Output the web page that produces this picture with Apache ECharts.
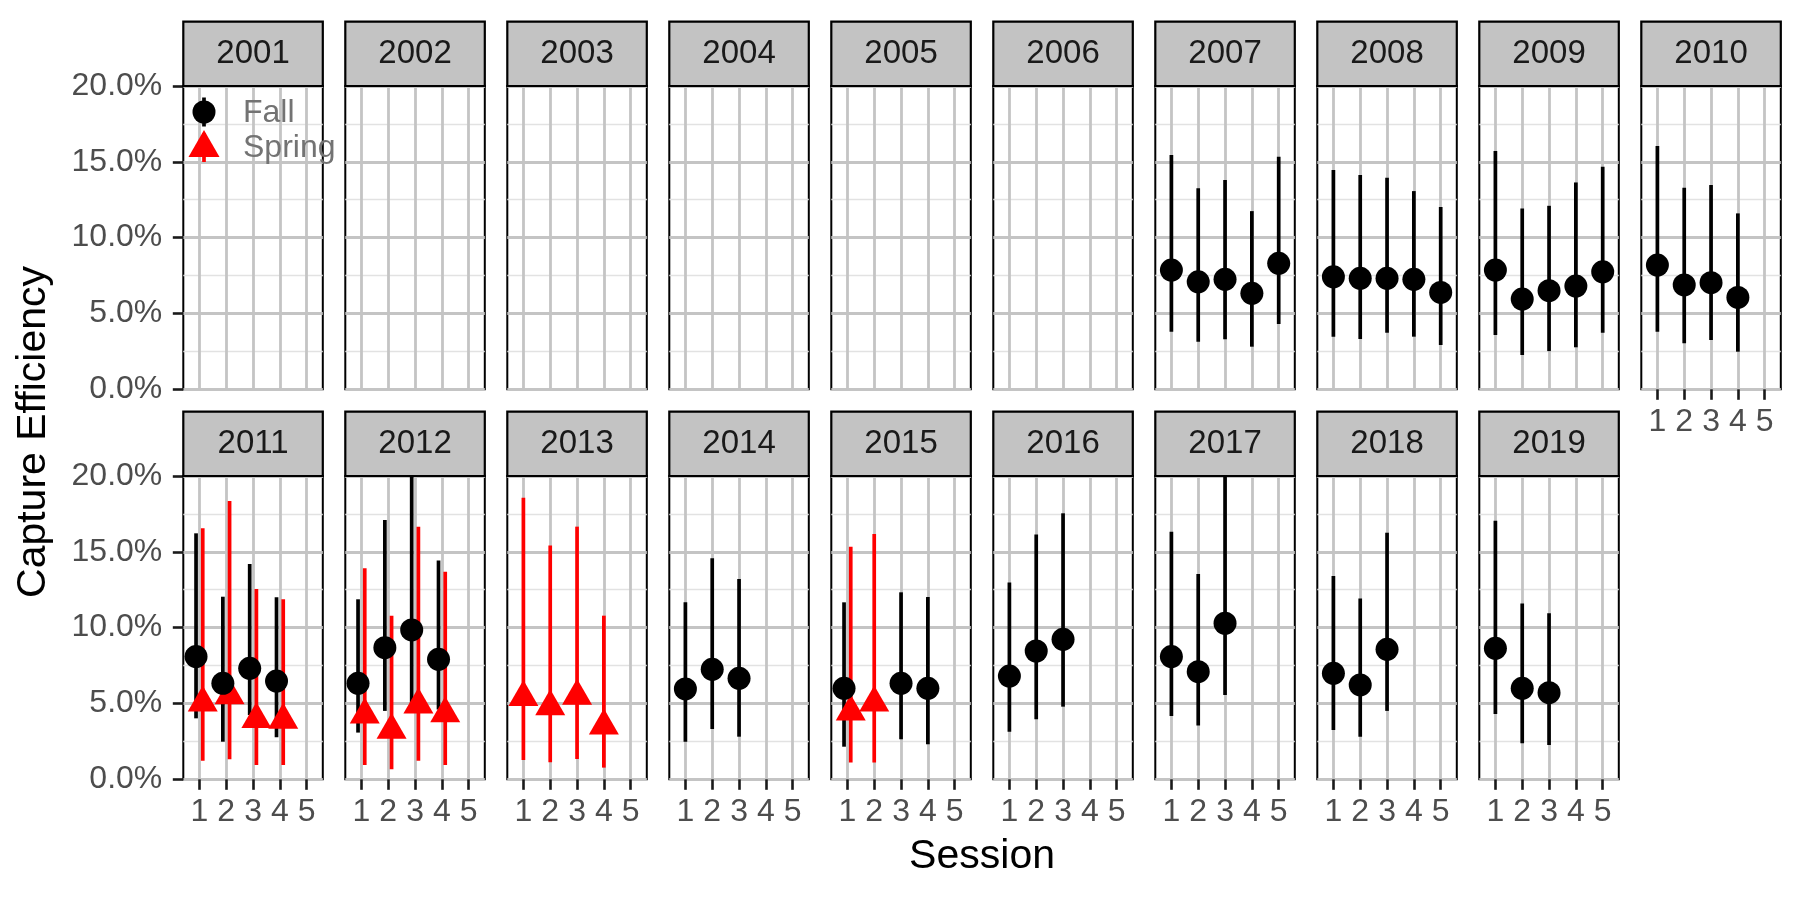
<!DOCTYPE html>
<html>
<head>
<meta charset="utf-8">
<script src="https://cdn.jsdelivr.net/npm/echarts@6/dist/echarts.min.js"></script>
<style>
html, body { margin: 0; padding: 0; background: #ffffff; }
#chart { width: 1800px; height: 900px; }
</style>
</head>
<body>
<div id="chart"></div>
<script>
// ---------------- data ----------------
const years = [2001, 2002, 2003, 2004, 2005, 2006, 2007, 2008, 2009, 2010,
               2011, 2012, 2013, 2014, 2015, 2016, 2017, 2018, 2019];
const sessions = [1, 2, 3, 4, 5];
const yTicks = [0, 0.05, 0.10, 0.15, 0.20];
const seasons = ['Fall', 'Spring'];

const fallYear = [2007, 2007, 2007, 2007, 2007,
                  2008, 2008, 2008, 2008, 2008,
                  2009, 2009, 2009, 2009, 2009,
                  2010, 2010, 2010, 2010,
                  2011, 2011, 2011, 2011,
                  2012, 2012, 2012, 2012,
                  2014, 2014, 2014,
                  2015, 2015, 2015,
                  2016, 2016, 2016,
                  2017, 2017, 2017,
                  2018, 2018, 2018,
                  2019, 2019, 2019];
const fallSession = [1, 2, 3, 4, 5,
                     1, 2, 3, 4, 5,
                     1, 2, 3, 4, 5,
                     1, 2, 3, 4,
                     1, 2, 3, 4,
                     1, 2, 3, 4,
                     1, 2, 3,
                     1, 3, 4,
                     1, 2, 3,
                     1, 2, 3,
                     1, 2, 3,
                     1, 2, 3];
const fallEst = [0.0786, 0.0709, 0.0725, 0.0633, 0.0831,
                 0.0742, 0.0732, 0.0732, 0.0725, 0.0639,
                 0.0786, 0.0595, 0.0650, 0.0681, 0.0775,
                 0.0819, 0.0688, 0.0703, 0.0606,
                 0.0809, 0.0633, 0.0732, 0.0648,
                 0.0633, 0.0868, 0.0985, 0.0791,
                 0.0596, 0.0725, 0.0666,
                 0.0600, 0.0633, 0.0600,
                 0.0681, 0.0846, 0.0923,
                 0.0809, 0.0710, 0.1029,
                 0.0699, 0.0622, 0.0857,
                 0.0864, 0.0600, 0.0571];
const fallLow = [0.0380, 0.0314, 0.0330, 0.0281, 0.0430,
                 0.0347, 0.0332, 0.0373, 0.0347, 0.0292,
                 0.0358, 0.0226, 0.0252, 0.0277, 0.0373,
                 0.0380, 0.0303, 0.0325, 0.0248,
                 0.0402, 0.0248, 0.0424, 0.0277,
                 0.0308, 0.0451, 0.0500, 0.0460,
                 0.0248, 0.0332, 0.0281,
                 0.0215, 0.0264, 0.0231,
                 0.0314, 0.0396, 0.0479,
                 0.0418, 0.0354, 0.0556,
                 0.0325, 0.0281, 0.0451,
                 0.0431, 0.0237, 0.0226];
const fallHigh = [0.1545, 0.1325, 0.1380, 0.1175, 0.1533,
                  0.1446, 0.1413, 0.1395, 0.1307, 0.1202,
                  0.1571, 0.1193, 0.1210, 0.1364, 0.1468,
                  0.1604, 0.1329, 0.1347, 0.1160,
                  0.1622, 0.1204, 0.1420, 0.1200,
                  0.1187, 0.1710, 0.2100, 0.1442,
                  0.1167, 0.1457, 0.1321,
                  0.1167, 0.1233, 0.1202,
                  0.1297, 0.1615, 0.1754,
                  0.1633, 0.1354, 0.2150,
                  0.1341, 0.1193, 0.1626,
                  0.1705, 0.1160, 0.1095];

const springYear = [2011, 2011, 2011, 2011,
                    2012, 2012, 2012, 2012,
                    2013, 2013, 2013, 2013,
                    2015, 2015];
const springSession = [1, 2, 3, 4,
                       1, 2, 3, 4,
                       1, 2, 3, 4,
                       1, 2];
const springEst = [0.0505, 0.0552, 0.0396, 0.0391,
                   0.0426, 0.0325, 0.0492, 0.0433,
                   0.0541, 0.0479, 0.0549, 0.0352,
                   0.0445, 0.0505];
const springLow = [0.0123, 0.0132, 0.0095, 0.0095,
                   0.0095, 0.0066, 0.0123, 0.0095,
                   0.0127, 0.0112, 0.0134, 0.0077,
                   0.0110, 0.0110];
const springHigh = [0.1655, 0.1835, 0.1255, 0.1187,
                    0.1391, 0.1079, 0.1666, 0.1369,
                    0.1857, 0.1541, 0.1666, 0.1079,
                    0.1534, 0.1618];

// ---------------- layout & style ----------------
const FONT = '"Liberation Sans", Arial, Helvetica, sans-serif';
const NCOL = 10;
const PANEL_LEFT0 = 183.3, PANEL_PITCH = 162, PANEL_W = 139.5;
const PANEL_TOP0 = 86, ROW_PITCH = 390, PANEL_H = 303.3;
const STRIP_TOP_OFF = 21.7;
const DODGE = 0.125;
const GRID_MAJOR = '#C4C4C4', GRID_MINOR = '#E2E2E2';
const FALL_COLOR = '#000000', SPRING_COLOR = '#FF0000';
const BAR_W = 3.7;

function key(y, s) { return y + '_' + s; }
const fallKeys = new Set(fallYear.map((y, i) => key(y, fallSession[i])));
const springKeys = new Set(springYear.map((y, i) => key(y, springSession[i])));

function buildSeason(yArr, sArr, est, lo, hi, otherKeys, sign) {
  const out = {};
  yArr.forEach((y, i) => {
    const s = sArr[i];
    const x = otherKeys.has(key(y, s)) ? s + sign * DODGE : s;
    (out[y] = out[y] || []).push({ x: x, est: est[i], lo: lo[i], hi: hi[i] });
  });
  return out;
}
const fallByYear = buildSeason(fallYear, fallSession, fallEst, fallLow, fallHigh, springKeys, -1);
const springByYear = buildSeason(springYear, springSession, springEst, springLow, springHigh, fallKeys, +1);

function barRenderer(color) {
  return function (params, api) {
    const cs = params.coordSys;
    const x = api.value(0);
    const p1 = api.coord([x, api.value(1)]);
    const p2 = api.coord([x, api.value(2)]);
    const top = cs.y, bot = cs.y + cs.height;
    const c = v => Math.max(top, Math.min(bot, v));
    return {
      type: 'line',
      shape: { x1: p1[0], y1: c(p1[1]), x2: p2[0], y2: c(p2[1]) },
      style: { stroke: color, lineWidth: BAR_W }
    };
  };
}

const grids = [], xAxes = [], yAxes = [], series = [], graphics = [];
const nYears = years.length;

years.forEach((year, i) => {
  const col = i % NCOL, row = Math.floor(i / NCOL);
  const left = PANEL_LEFT0 + col * PANEL_PITCH;
  const top = PANEL_TOP0 + row * ROW_PITCH;
  const showX = (i + NCOL >= nYears);
  const showY = (col === 0);

  grids.push({
    left: left, top: top, width: PANEL_W, height: PANEL_H,
    show: true, borderColor: '#000000', borderWidth: 2, backgroundColor: '#ffffff',
    outerBoundsMode: 'none'
  });
  xAxes.push({
    gridIndex: i, type: 'value', min: 0.4, max: 5.6,
    axisLine: { show: false },
    axisTick: { show: showX, customValues: sessions, length: 10.5, lineStyle: { color: '#1a1a1a', width: 2.6 } },
    axisLabel: { show: showX, customValues: sessions, margin: 16.5, fontSize: 32, color: '#4D4D4D', fontFamily: FONT },
    splitLine: { show: true, lineStyle: { color: GRID_MAJOR, width: 2.8 } }
  });
  yAxes.push({
    gridIndex: i, type: 'value',
    min: yTicks[0], max: yTicks[yTicks.length - 1], interval: yTicks[1] - yTicks[0],
    axisLine: { show: false },
    axisTick: { show: showY, length: 10.5, lineStyle: { color: '#1a1a1a', width: 2.6 } },
    axisLabel: { show: showY, margin: 21, fontSize: 32, color: '#4D4D4D', fontFamily: FONT,
                 formatter: v => (v * 100).toFixed(1) + '%' },
    splitLine: { show: true, lineStyle: { color: GRID_MAJOR, width: 2.8 } },
    minorTick: { show: false, splitNumber: 2 },
    minorSplitLine: { show: true, lineStyle: { color: GRID_MINOR, width: 1.4 } }
  });

  // strip
  const stripTop = STRIP_TOP_OFF + row * ROW_PITCH;
  graphics.push({
    type: 'rect', z: 10,
    shape: { x: left, y: stripTop, width: PANEL_W, height: top - stripTop },
    style: { fill: '#C3C3C3', stroke: '#000000', lineWidth: 2.2 }
  });
  graphics.push({
    type: 'text', z: 11, x: left + PANEL_W / 2, y: (stripTop + top) / 2,
    style: { text: String(year), fontSize: 33, fontFamily: FONT, fill: '#1A1A1A', align: 'center', verticalAlign: 'middle' }
  });

  const f = fallByYear[year] || [];
  const s = springByYear[year] || [];
  if (f.length) {
    series.push({
      name: 'Fall', type: 'custom', xAxisIndex: i, yAxisIndex: i, z: 2, silent: true,
      renderItem: barRenderer(FALL_COLOR), encode: { x: 0, y: [1, 2] },
      data: f.map(d => [d.x, d.lo, d.hi])
    });
  }
  if (s.length) {
    series.push({
      name: 'Spring', type: 'custom', xAxisIndex: i, yAxisIndex: i, z: 2, silent: true,
      renderItem: barRenderer(SPRING_COLOR), encode: { x: 0, y: [1, 2] },
      data: s.map(d => [d.x, d.lo, d.hi])
    });
    series.push({
      name: 'Spring', type: 'scatter', xAxisIndex: i, yAxisIndex: i, z: 3, silent: true,
      symbol: 'triangle', symbolSize: [30, 26], symbolOffset: [0, -4.3],
      itemStyle: { color: SPRING_COLOR, opacity: 1 },
      data: s.map(d => [d.x, d.est])
    });
  }
  if (f.length) {
    series.push({
      name: 'Fall', type: 'scatter', xAxisIndex: i, yAxisIndex: i, z: 4, silent: true,
      symbol: 'circle', symbolSize: 23,
      itemStyle: { color: FALL_COLOR, opacity: 1 },
      data: f.map(d => [d.x, d.est])
    });
  }
});

// legend (inside the first panel)
const LX = 204;
graphics.push({ type: 'line', z: 20, shape: { x1: LX, y1: 97.5, x2: LX, y2: 126.5 }, style: { stroke: FALL_COLOR, lineWidth: BAR_W } });
graphics.push({ type: 'circle', z: 21, shape: { cx: LX, cy: 112, r: 11.5 }, style: { fill: FALL_COLOR } });
graphics.push({ type: 'line', z: 20, shape: { x1: LX, y1: 133, x2: LX, y2: 162 }, style: { stroke: SPRING_COLOR, lineWidth: BAR_W } });
graphics.push({ type: 'polygon', z: 21, shape: { points: [[LX, 130], [LX + 15.5, 157], [LX - 15.5, 157]] }, style: { fill: SPRING_COLOR } });
graphics.push({ type: 'text', z: 21, x: 243, y: 113, style: { text: seasons[0], fontSize: 32, fontFamily: FONT, fill: '#737373', align: 'left', verticalAlign: 'middle' } });
graphics.push({ type: 'text', z: 21, x: 243, y: 148, style: { text: seasons[1], fontSize: 32, fontFamily: FONT, fill: '#737373', align: 'left', verticalAlign: 'middle' } });

// axis titles
graphics.push({ type: 'text', z: 21, x: 34, y: 432, rotation: Math.PI / 2,
  style: { text: 'Capture Efficiency', fontSize: 41, fontFamily: FONT, fill: '#000000', align: 'center', verticalAlign: 'middle' } });
graphics.push({ type: 'text', z: 21, x: PANEL_LEFT0 + (PANEL_PITCH * (NCOL - 1) + PANEL_W) / 2, y: 857,
  style: { text: 'Session', fontSize: 41, fontFamily: FONT, fill: '#000000', align: 'center', verticalAlign: 'middle' } });

const chart = echarts.init(document.getElementById('chart'), null, { renderer: 'canvas' });
chart.setOption({
  animation: false,
  backgroundColor: '#ffffff',
  grid: grids,
  xAxis: xAxes,
  yAxis: yAxes,
  series: series,
  graphic: { elements: graphics }
});
</script>
</body>
</html>
